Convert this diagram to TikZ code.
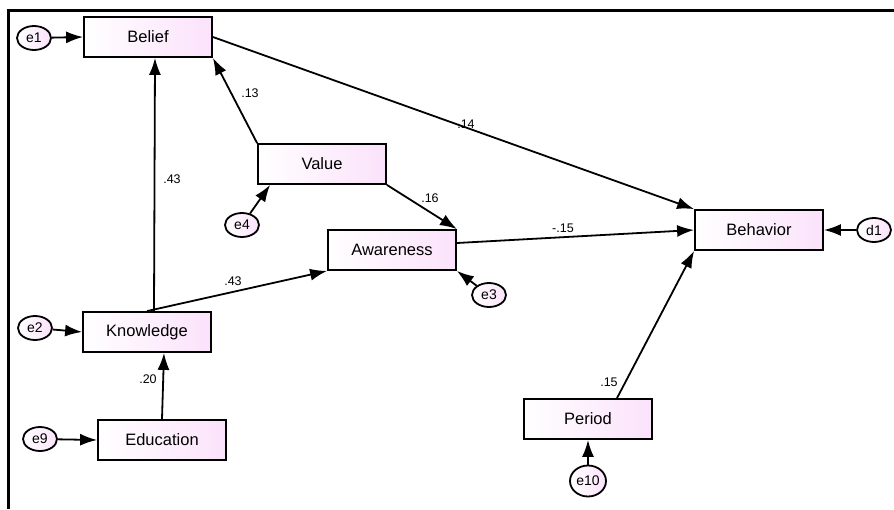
\documentclass[tikz,border=0pt]{standalone}
\usepackage{fontspec}
\setmainfont{Liberation Sans}
\usetikzlibrary{arrows.meta,shapes.geometric}
\definecolor{boxpink}{RGB}{251,226,251}
\newcommand{\varfont}{\fontsize{16.5pt}{19pt}\selectfont}
\newcommand{\errfont}{\fontsize{14pt}{16pt}\selectfont}
\newcommand{\coeffont}{\fontsize{12.5pt}{14pt}\selectfont}

\begin{document}
\begin{tikzpicture}[x=1pt, y=-1pt, line width=1.8pt, >={Latex[length=17pt,width=12pt]}]
\useasboundingbox (0,0) rectangle (894,509);
\tikzstyle{var} = [draw, rectangle, minimum width=128pt, minimum height=40pt, inner sep=0pt, left color=white, right color=boxpink, font=\varfont]
\tikzstyle{err} = [draw, ellipse, minimum width=34pt, minimum height=24pt, inner sep=0pt, left color=white, right color=boxpink, font=\errfont]
\tikzstyle{coef} = [inner sep=0pt, font=\coeffont]
% frame
\draw[line width=3pt] (8,509) -- (8,10) -- (894,10);
% variables
\node[var] (belief) at (148,37) {Belief};
\node[var] (value) at (322,164) {Value};
\node[var] (awareness) at (392,250) {Awareness};
\node[var] (knowledge) at (147,332) {Knowledge};
\node[var] (education) at (162,440) {Education};
\node[var] (behavior) at (759,230) {Behavior};
\node[var] (period) at (588,419) {Period};
% errors
\node[err] (e1) at (34,38) {e1};
\node[err] (e4) at (242,225) {e4};
\node[err] (e3) at (489,295) {e3};
\node[err] (e2) at (35,328) {e2};
\node[err] (e9) at (40,439) {e9};
\node[err] (d1) at (874,230) {d1};
\node[err, minimum width=36pt, minimum height=31pt] (e10) at (588,481) {e10};
% paths
\foreach \from/\to in {e1/belief.west, e2/knowledge.west, e9/education.west, d1/behavior.east, e10/period.south, e3/awareness.south east, value.north west/belief.south east, value.south east/awareness.north east, knowledge.north/awareness.south west, belief.east/behavior.north west}
\draw [->] (\from) -- (\to);
\draw [->] ([xshift=7pt]knowledge.north) -- ([xshift=7pt]belief.south);
\draw [->] (education.north) -- ([xshift=17pt]knowledge.south);
\draw [->] (e4) -- ([xshift=13pt]value.south west);
\draw [->] ([yshift=7pt]awareness.east) -- (behavior.west);
\draw [->] ([xshift=29pt]period.north) -- (behavior.south west);
% coefficients
\node[coef] (c13) at (250,93) {.13};
\node[coef] (c43a) at (172,179) {.43};
\node[coef] (c14) at (466,124) {.14};
\node[coef] (c16) at (430,198) {.16};
\node[coef] (c43b) at (233,281) {.43};
\node[coef] (c15a) at (563,228) {-.15};
\node[coef] (c15b) at (609,382) {.15};
\node[coef] (c20) at (148,379) {.20};
\end{tikzpicture}
\end{document}
